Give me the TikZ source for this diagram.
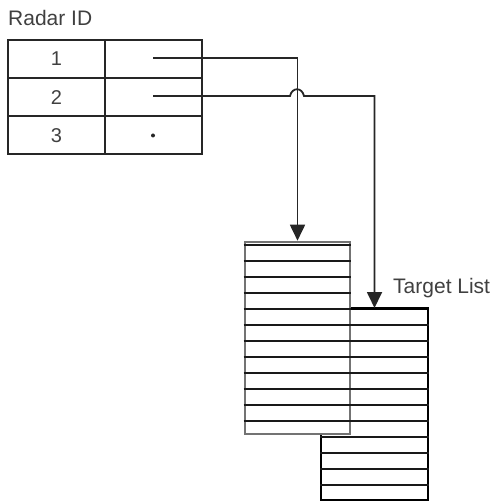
\documentclass[tikz,border=0pt]{standalone}
\usepackage{fontspec}
\setmainfont{Liberation Sans}
\usetikzlibrary{arrows.meta}
\begin{document}
\begin{tikzpicture}[x=1pt,y=-1pt,
  txt/.style={text=black!75,font=\fontsize{21}{24}\selectfont,inner sep=0pt},
  cell/.style={draw=black!85,line width=2pt,minimum width=97pt,minimum height=38pt,inner sep=0pt,anchor=center,text=black!75,font=\fontsize{20}{24}\selectfont},
  listbox/.style={fill=white,inner sep=0pt},
  rowline/.style={draw=black!90,line width=1.7pt},
  conn/.style={draw=black!85,line width=1.8pt},
  arr/.style={-{Triangle[length=16pt,width=15pt]}}]
\useasboundingbox (0,0) rectangle (495,502);
% labels
\node[txt,anchor=west] (radarid) at (8,18) {Radar ID};
\node[txt,anchor=west] (targetlist) at (393,288) {Target List};
% table
\node[cell] (c11) at (56.5,59) {1};
\node[cell] (c12) at (153,59) {};
\node[cell] (c21) at (56.5,97.5) {2};
\node[cell] (c22) at (153,97.5) {};
\node[cell] (c31) at (56.5,135.5) {3};
\node[cell] (c32) at (153,135.5) {};
\fill[black!85] (c32.center) circle (2pt);
% list 2 (behind)
\node[listbox,draw=black,line width=2pt,minimum width=107pt,minimum height=191pt] (list2) at (374.5,404.5) {};
\draw[black,line width=3pt] (list2.north west) -- (list2.north east);
\foreach \k in {0,...,10}{
  \draw[rowline] ([yshift=-(17+16*\k)*1pt]list2.north west) -- ([yshift=-(17+16*\k)*1pt]list2.north east);
}
% list 1 (front)
\node[listbox,draw=black!55,line width=2.6pt,minimum width=105pt,minimum height=192pt] (list1) at (297.5,338) {};
\draw[rowline] ([yshift=-4pt]list1.north west) -- ([yshift=-4pt]list1.north east);
\foreach \k in {0,...,10}{
  \draw[rowline] ([yshift=-(20+16*\k)*1pt]list1.north west) -- ([yshift=-(20+16*\k)*1pt]list1.north east);
}
% connectors
\coordinate (hopL) at (290,96);
\coordinate (hopR) at (304,96);
\coordinate (s1) at (153,58);
\coordinate (s2) at (153,96);
\draw[conn,arr] (s1) -| (list1.north);
\draw[conn,arr] (s2) -- (hopL) .. controls (292,87) and (302,87) .. (hopR) -| (list2.north);
\end{tikzpicture}
\end{document}
